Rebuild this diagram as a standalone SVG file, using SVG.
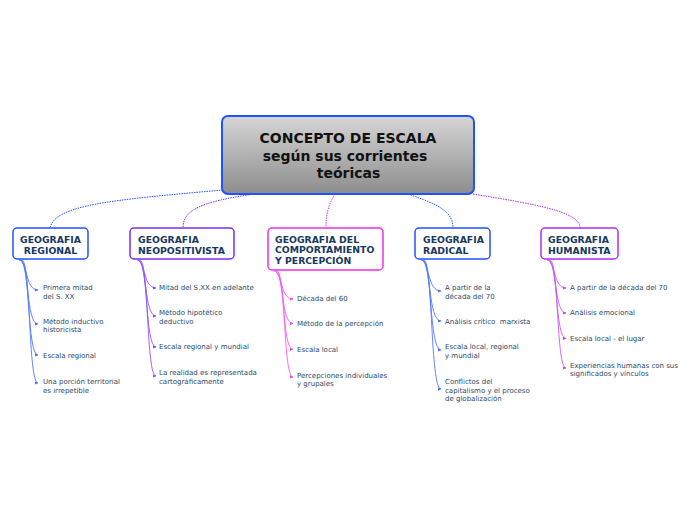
<svg xmlns="http://www.w3.org/2000/svg" width="696" height="520" viewBox="0 0 696 520">
<defs>
<linearGradient id="cg" x1="0" y1="0" x2="0" y2="1">
<stop offset="0" stop-color="#d6d6d6"/>
<stop offset="1" stop-color="#8d8d8d"/>
</linearGradient>
<marker id="mb" viewBox="0 0 4 4" refX="3.5" refY="2" markerWidth="4" markerHeight="4" markerUnits="userSpaceOnUse" orient="auto"><path d="M0,0.4 L4,2 L0,3.6 z" fill="#4a6cff"/></marker>
<marker id="mp" viewBox="0 0 4 4" refX="3.5" refY="2" markerWidth="4" markerHeight="4" markerUnits="userSpaceOnUse" orient="auto"><path d="M0,0.4 L4,2 L0,3.6 z" fill="#8a45f5"/></marker>
<marker id="mm" viewBox="0 0 4 4" refX="3.5" refY="2" markerWidth="4" markerHeight="4" markerUnits="userSpaceOnUse" orient="auto"><path d="M0,0.4 L4,2 L0,3.6 z" fill="#f040f0"/></marker>
<marker id="mv" viewBox="0 0 4 4" refX="3.5" refY="2" markerWidth="4" markerHeight="4" markerUnits="userSpaceOnUse" orient="auto"><path d="M0,0.4 L4,2 L0,3.6 z" fill="#c040f5"/></marker>
</defs>
<style>
.main{fill:url(#cg);stroke:#2152ff;stroke-width:2}
.mt{font-family:"DejaVu Sans",Verdana,sans-serif;font-weight:bold;font-size:14px;fill:#111;text-anchor:middle}
.box{fill:#fff;stroke-width:1.5}
.ht{font-family:"DejaVu Sans",Verdana,sans-serif;font-weight:bold;font-size:9.3px;fill:#17375e}
.lt{font-family:"DejaVu Sans",Verdana,sans-serif;font-size:7px;fill:#2c4866}
.dl{fill:none;stroke-width:1;stroke-dasharray:1.5 1}
.sl{fill:none;stroke-width:0.9}
.b{stroke:#2152ff}
.p{stroke:#7b2cf5}
.m{stroke:#f02df0}
.v{stroke:#b42cf0}
.bl{stroke:#5577ff}
.pl{stroke:#9355f7}
.ml{stroke:#f55af5}
.vl{stroke:#c75af7}
</style>
<g id="connectors">
<path class="dl b" d="M223 190 C110 200 55 205 50 228"/>
<path class="dl p" d="M254 194 C200 202 183 210 183 228"/>
<path class="dl m" d="M335 194 C328 205 326 215 326 228"/>
<path class="dl b" d="M408 194 C440 205 453 212 453 228"/>
<path class="dl v" d="M473 194 C540 205 580 212 580 228"/>
<g class="sl bl">
<path d="M19 260 C28 262 25 290 38 290" marker-end="url(#mb)"/>
<path d="M20 260 C29 262 26 324 38 324" marker-end="url(#mb)"/>
<path d="M21 260 C30 262 27 355 38 355" marker-end="url(#mb)"/>
<path d="M22 260 C31 262 28 383 38 383" marker-end="url(#mb)"/>
</g>
<g class="sl pl">
<path d="M137 260 C146 262 143 288 156 288" marker-end="url(#mp)"/>
<path d="M138 260 C147 262 144 316 156 316" marker-end="url(#mp)"/>
<path d="M139 260 C148 262 145 347 156 347" marker-end="url(#mp)"/>
<path d="M140 260 C149 262 146 376 156 376" marker-end="url(#mp)"/>
</g>
<g class="sl ml">
<path d="M274 271 C283 273 280 299 293 299" marker-end="url(#mm)"/>
<path d="M275 271 C284 273 281 323.5 293 323.5" marker-end="url(#mm)"/>
<path d="M276 271 C285 273 282 349.5 293 349.5" marker-end="url(#mm)"/>
<path d="M277 271 C286 273 283 377 293 377" marker-end="url(#mm)"/>
</g>
<g class="sl bl">
<path d="M421 260 C430 262 427 291 441 291" marker-end="url(#mb)"/>
<path d="M422 260 C431 262 428 321 441 321" marker-end="url(#mb)"/>
<path d="M423 260 C432 262 429 350 441 350" marker-end="url(#mb)"/>
<path d="M424 260 C433 262 430 389 441 389" marker-end="url(#mb)"/>
</g>
<g class="sl vl">
<path d="M547 260 C556 262 553 288 566 288" marker-end="url(#mv)"/>
<path d="M548 260 C557 262 554 313 566 313" marker-end="url(#mv)"/>
<path d="M549 260 C558 262 555 338.5 566 338.5" marker-end="url(#mv)"/>
<path d="M550 260 C559 262 556 368 566 368" marker-end="url(#mv)"/>
</g>
</g>
<g id="central">
<rect class="main" x="222" y="116" width="252" height="78" rx="6"/>
<text class="mt" x="348" y="143">CONCEPTO DE ESCALA</text>
<text class="mt" x="345" y="161">según sus corrientes</text>
<text class="mt" x="348.5" y="178">teóricas</text>
</g>
<g id="regional">
<rect class="box b" x="13" y="228" width="75" height="31" rx="4"/>
<text class="ht" x="50.5" y="242.5" text-anchor="middle">GEOGRAFIA</text>
<text class="ht" x="50.5" y="253.5" text-anchor="middle">REGIONAL</text>
</g>
<g id="regional-leaves">
<text class="lt" x="43" y="290">Primera mitad</text>
<text class="lt" x="43" y="298.5">del S. XX</text>
<text class="lt" x="43" y="323.5">Método inductivo</text>
<text class="lt" x="43" y="332">historicista</text>
<text class="lt" x="43" y="358">Escala regional</text>
<text class="lt" x="43" y="384">Una porción territorial</text>
<text class="lt" x="43" y="392.5">es irrepetible</text>
</g>
<g id="neopositivista">
<rect class="box p" x="130" y="228" width="104" height="31" rx="4"/>
<text class="ht" x="138" y="242.5">GEOGRAFIA</text>
<text class="ht" x="138" y="253.5">NEOPOSITIVISTA</text>
</g>
<g id="neopositivista-leaves">
<text class="lt" x="159" y="290">Mitad del S.XX en adelante</text>
<text class="lt" x="159" y="315">Método hipotético</text>
<text class="lt" x="159" y="323.5">deductivo</text>
<text class="lt" x="159" y="349">Escala regional y mundial</text>
<text class="lt" x="159" y="375">La realidad es representada</text>
<text class="lt" x="159" y="383.5">cartográficamente</text>
</g>
<g id="comportamiento">
<rect class="box m" x="268" y="228" width="115" height="42" rx="4"/>
<text class="ht" x="275" y="242.5">GEOGRAFIA DEL</text>
<text class="ht" x="275" y="253.3">COMPORTAMIENTO</text>
<text class="ht" x="275" y="264.2">Y PERCEPCIÓN</text>
</g>
<g id="comportamiento-leaves">
<text class="lt" x="297" y="301">Década del 60</text>
<text class="lt" x="297" y="326">Método de la percepción</text>
<text class="lt" x="297" y="352">Escala local</text>
<text class="lt" x="297" y="377.5">Percepciones individuales</text>
<text class="lt" x="297" y="386">y grupales</text>
</g>
<g id="radical">
<rect class="box b" x="415" y="228" width="75" height="31" rx="4"/>
<text class="ht" x="423" y="242.5">GEOGRAFIA</text>
<text class="ht" x="423" y="253.5">RADICAL</text>
</g>
<g id="radical-leaves">
<text class="lt" x="445" y="290">A partir de la</text>
<text class="lt" x="445" y="298.5">década del 70</text>
<text class="lt" x="445" y="323.5" xml:space="preserve">Análisis crítico  marxista</text>
<text class="lt" x="445" y="349">Escala local, regional</text>
<text class="lt" x="445" y="357.5">y mundial</text>
<text class="lt" x="445" y="384">Conflictos del</text>
<text class="lt" x="445" y="392.5">capitalismo y el proceso</text>
<text class="lt" x="445" y="401">de globalización</text>
</g>
<g id="humanista">
<rect class="box v" x="541" y="228" width="77" height="31" rx="4"/>
<text class="ht" x="548" y="242.5">GEOGRAFIA</text>
<text class="ht" x="548" y="253.5">HUMANISTA</text>
</g>
<g id="humanista-leaves">
<text class="lt" x="570" y="290">A partir de la década del 70</text>
<text class="lt" x="570" y="315">Análisis emocional</text>
<text class="lt" x="570" y="341">Escala local - el lugar</text>
<text class="lt" x="570" y="367.5">Experiencias humanas con sus</text>
<text class="lt" x="570" y="376">significados y vínculos</text>
</g>
</svg>
